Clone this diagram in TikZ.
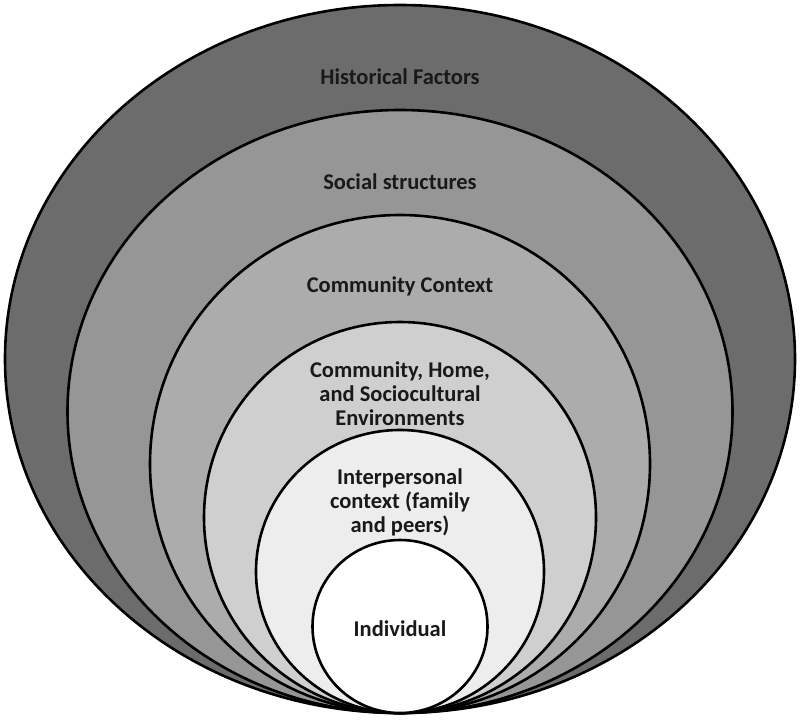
\documentclass[tikz,border=0pt]{standalone}
\usepackage{fontspec}
\setmainfont{Carlito}
\definecolor{ringA}{RGB}{108,108,108}
\definecolor{ringB}{RGB}{150,150,150}
\definecolor{ringC}{RGB}{172,172,172}
\definecolor{ringD}{RGB}{207,207,207}
\definecolor{ringE}{RGB}{237,237,237}
\definecolor{txt}{RGB}{25,25,25}
\begin{document}
\begin{tikzpicture}[x=1pt,y=-1pt,
  ring/.style={draw=black,line width=2.6pt},
  lbl/.style={font=\fontsize{22.5}{24}\selectfont\bfseries,text=txt,align=center,inner sep=0pt}]
\useasboundingbox (0,0) rectangle (800,724);
\fill[white] (0,0) rectangle (800,724);
\draw[ring,fill=ringA] (400,359) ellipse [x radius=395,y radius=354];
\draw[ring,fill=ringB] (400,411.5) ellipse [x radius=332.5,y radius=301.5];
\draw[ring,fill=ringC] (400,464) ellipse [x radius=250,y radius=249];
\draw[ring,fill=ringD] (400,517.5) ellipse [x radius=196,y radius=195.5];
\draw[ring,fill=ringE] (400,571.5) ellipse [x radius=144,y radius=141.5];
\draw[ring,fill=white] (400,626.5) ellipse [x radius=87.5,y radius=86.5];
\node[lbl] (hist) at (400,77) {Historical Factors};
\node[lbl] (soc) at (400,182) {Social structures};
\node[lbl] (comm) at (400,286) {Community Context};
\node[lbl] (home) at (400,394) {Community, Home,\\and Sociocultural\\Environments};
\node[lbl] (inter) at (400,502) {Interpersonal\\context (family\\and peers)};
\node[lbl] (ind) at (400,629) {Individual};
\end{tikzpicture}
\end{document}
